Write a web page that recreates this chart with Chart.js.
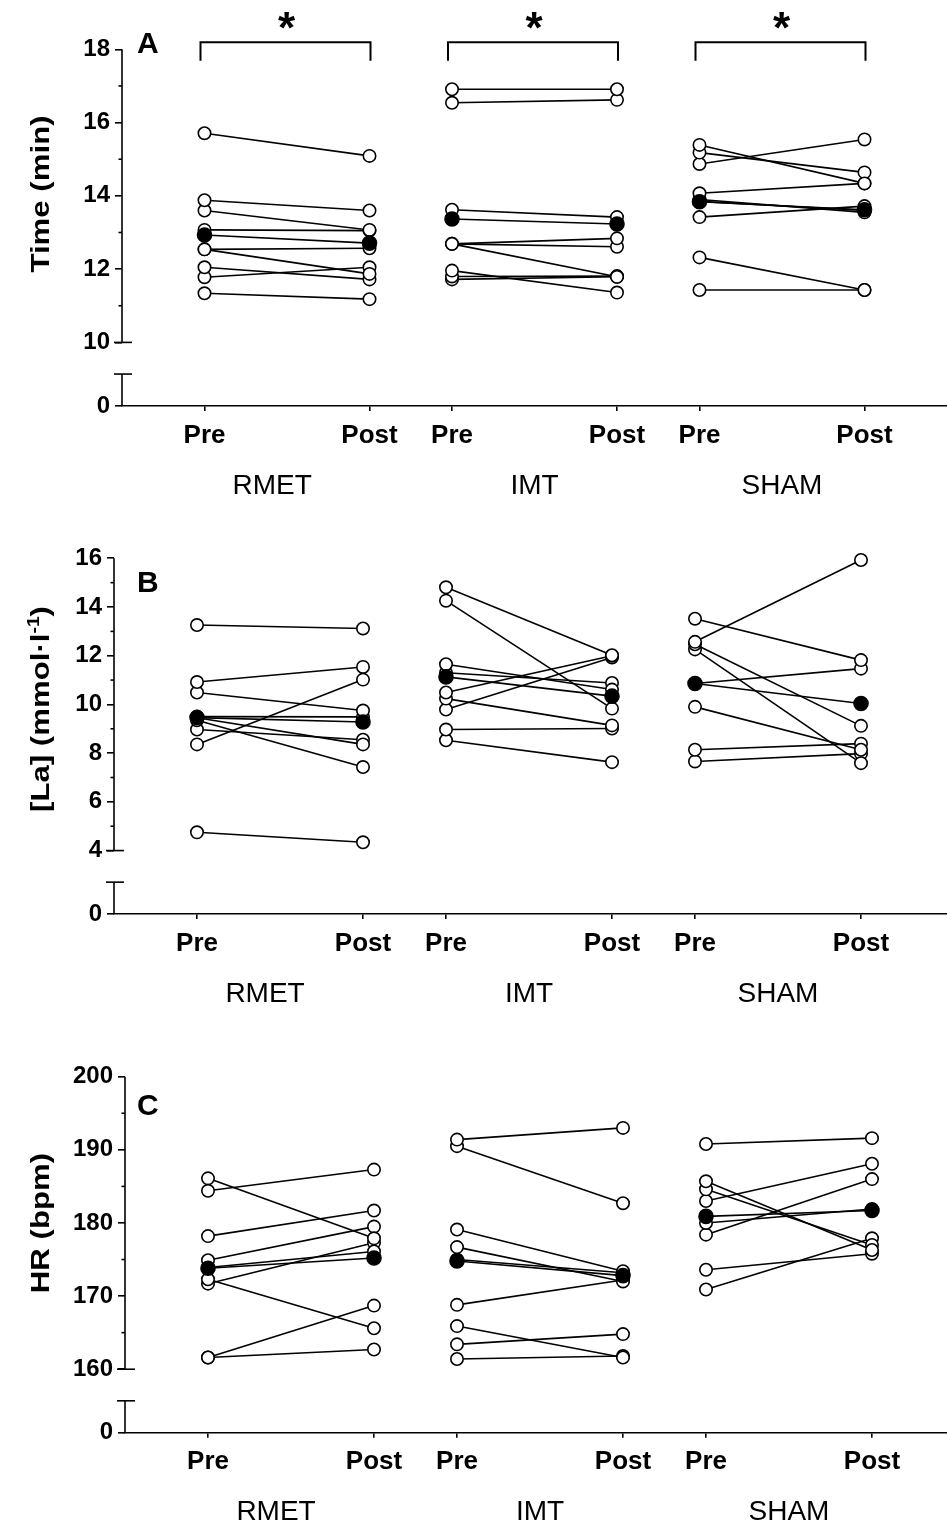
<!DOCTYPE html>
<html>
<head>
<meta charset="utf-8">
<script src="https://cdn.jsdelivr.net/npm/chart.js@4.4.1/dist/chart.umd.min.js"></script>
<style>
  html, body { margin: 0; padding: 0; background: #fff; }
  body { width: 947px; height: 1526px; position: relative; overflow: hidden; }
  canvas { position: absolute; left: 0; }
</style>
</head>
<body>
<canvas id="chartA" width="947" height="510" style="top:0px"></canvas>
<canvas id="chartB" width="947" height="520" style="top:510px"></canvas>
<canvas id="chartC" width="947" height="496" style="top:1030px"></canvas>
<script>
// x categories (Pre/Post per group) and group names
const xTickPos = [0, 2, 3, 5, 6, 8];
const xTickLabels = ['Pre', 'Post', 'Pre', 'Post', 'Pre', 'Post'];
const groupNames = ['RMET', 'IMT', 'SHAM'];
const groupLabelPos = [0.82, 4, 7];

// A - time (min)
const timeRmetPre  = [15.71, 13.88, 13.60, 13.07, 12.54, 12.54, 12.05, 11.78, 11.34];
const timeRmetPost = [15.09, 13.60, 13.07, 13.05, 12.57, 11.87, 11.72, 12.05, 11.18];
const timeImtPre   = [16.91, 16.54, 13.62, 12.69, 12.69, 12.69, 11.96, 11.80, 11.72];
const timeImtPost  = [16.91, 16.62, 13.42, 12.84, 12.61, 11.79, 11.36, 11.81, 11.79];
const timeShamPre  = [15.39, 15.18, 14.87, 14.07, 13.90, 13.85, 13.42, 12.32, 11.43];
const timeShamPost = [14.34, 14.64, 15.54, 14.34, 13.55, 13.60, 13.72, 11.43, 11.43];
const timeMeanPre  = [12.93, 13.37, 13.84];
const timeMeanPost = [12.71, 13.23, 13.62];
const timeTicks = [10, 12, 14, 16, 18];
const timeMinor = [11, 13, 15, 17];

// B - lactate
const laRmetPre  = [13.26, 10.92, 10.49, 9.50, 9.45, 9.35, 8.97, 8.36, 4.75];
const laRmetPost = [13.12, 11.54, 9.75, 9.49, 8.36, 7.43, 8.55, 11.02, 4.34];
const laImtPre   = [14.81, 14.26, 11.65, 11.30, 10.49, 10.24, 9.79, 8.97, 8.53];
const laImtPost  = [12.02, 9.83, 10.61, 10.88, 12.00, 9.14, 11.93, 9.01, 7.63];
const laShamPre  = [13.52, 12.57, 12.47, 12.26, 10.86, 9.90, 8.14, 7.66];
const laShamPost = [11.82, 15.93, 9.12, 7.59, 11.47, 8.14, 8.39, 7.98];
const laMeanPre  = [9.46, 11.13, 10.86];
const laMeanPost = [9.28, 10.34, 10.04];
const laTicks = [4, 6, 8, 10, 12, 14, 16];
const laMinor = [5, 7, 9, 11, 13, 15];

// C - heart rate
const hrRmetPre  = [184.4, 186.1, 178.2, 174.9, 173.9, 172.3, 171.7, 161.6, 161.6];
const hrRmetPost = [187.3, 177.9, 181.7, 179.5, 176.1, 165.6, 177.3, 168.7, 162.7];
const hrImtPre   = [191.4, 190.5, 179.1, 176.7, 175.0, 168.8, 165.9, 163.4, 161.4];
const hrImtPost  = [193.0, 182.7, 173.4, 172.0, 173.2, 172.2, 161.6, 164.8, 161.8];
const hrShamPre  = [190.8, 185.7, 184.6, 183.0, 180.0, 178.4, 173.6, 170.9];
const hrShamPost = [191.6, 176.3, 177.0, 188.1, 181.9, 186.0, 175.8, 177.9];
const hrMeanPre  = [173.8, 174.8, 180.9];
const hrMeanPost = [175.2, 172.8, 181.7];
const hrTicks = [160, 170, 180, 190, 200];
const hrMinor = [165, 175, 185, 195];

const FONT = '"Liberation Sans", Arial, Helvetica, sans-serif';

const panels = [
  {
    id: 'chartA', top: 0, height: 510, axisX: 122, topPx: 49.3, zeroPx: 406, unit: 82.5,
    letter: 'A', letterY: 45, title: [['Time (min)', 0]], titleY: 194,
    pre: [timeRmetPre, timeImtPre, timeShamPre], post: [timeRmetPost, timeImtPost, timeShamPost],
    meanPre: timeMeanPre, meanPost: timeMeanPost, ticks: timeTicks, minor: timeMinor, stars: true
  },
  {
    id: 'chartB', top: 510, height: 520, axisX: 114, topPx: 558.3, zeroPx: 914, unit: 83,
    letter: 'B', letterY: 584, title: [['[La] (mmol\u00b7l', 0], ['-1', 1], [')', 0]], titleY: 709,
    pre: [laRmetPre, laImtPre, laShamPre], post: [laRmetPost, laImtPost, laShamPost],
    meanPre: laMeanPre, meanPost: laMeanPost, ticks: laTicks, minor: laMinor, stars: false
  },
  {
    id: 'chartC', top: 1030, height: 496, axisX: 125, topPx: 1076.7, zeroPx: 1432.7, unit: 83,
    letter: 'C', letterY: 1107, title: [['HR (bpm)', 0]], titleY: 1223,
    pre: [hrRmetPre, hrImtPre, hrShamPre], post: [hrRmetPost, hrImtPost, hrShamPost],
    meanPre: hrMeanPre, meanPost: hrMeanPost, ticks: hrTicks, minor: hrMinor, stars: false
  }
];

function makeDatasets(p) {
  let ds = [];
  for (let g = 0; g < 3; g++) {
    let pre = p.pre[g];
    let post = p.post[g];
    for (let i = 0; i < pre.length; i++) {
      ds.push({
        data: [{ x: xTickPos[g * 2], y: pre[i] }, { x: xTickPos[g * 2 + 1], y: post[i] }],
        borderColor: '#000', borderWidth: 1.6,
        pointRadius: 6.2, pointBorderWidth: 1.6,
        pointBackgroundColor: '#fff', pointBorderColor: '#000',
        clip: false, order: 2
      });
    }
    ds.push({
      data: [{ x: xTickPos[g * 2], y: p.meanPre[g] }, { x: xTickPos[g * 2 + 1], y: p.meanPost[g] }],
      borderColor: '#000', borderWidth: 1.6,
      pointRadius: 7, pointBorderWidth: 1.6,
      pointBackgroundColor: '#000', pointBorderColor: '#000',
      clip: false, order: 1
    });
  }
  return ds;
}

function line(ctx, x1, y1, x2, y2) {
  ctx.beginPath();
  ctx.moveTo(x1, y1);
  ctx.lineTo(x2, y2);
  ctx.stroke();
}

function extrasPlugin(p) {
  return {
    id: 'extras' + p.letter,
    afterDraw(chart) {
      const ctx = chart.ctx;
      const y = chart.scales.y;
      const x = chart.scales.x;
      const ax = chart.chartArea.left;
      ctx.save();
      ctx.strokeStyle = '#000';
      ctx.lineWidth = 1.6;
      // broken y axis
      line(ctx, ax, y.getPixelForValue(p.high), ax, y.getPixelForValue(p.low));
      line(ctx, ax, y.getPixelForValue(p.capVal), ax, y.getPixelForValue(p.yMin));
      line(ctx, ax - 8, y.getPixelForValue(p.low), ax + 10, y.getPixelForValue(p.low));
      line(ctx, ax - 8, y.getPixelForValue(p.capVal), ax + 10, y.getPixelForValue(p.capVal));
      p.minor.forEach(v => line(ctx, ax - 3.5, y.getPixelForValue(v), ax, y.getPixelForValue(v)));

      // panel letter
      ctx.fillStyle = '#000';
      ctx.font = 'bold 30px ' + FONT;
      ctx.textAlign = 'left';
      ctx.textBaseline = 'middle';
      ctx.fillText(p.letter, 137, p.letterY - p.top);

      // y title (rotated)
      ctx.save();
      ctx.translate(40, p.titleY - p.top);
      ctx.rotate(-Math.PI / 2);
      ctx.scale(1.2, 1);
      let total = 0;
      p.title.forEach(part => {
        ctx.font = 'bold ' + (part[1] ? 16 : 26) + 'px ' + FONT;
        total += ctx.measureText(part[0]).width;
      });
      let cx = -total / 2;
      ctx.textAlign = 'left';
      ctx.textBaseline = 'alphabetic';
      p.title.forEach(part => {
        ctx.font = 'bold ' + (part[1] ? 16 : 26) + 'px ' + FONT;
        ctx.fillText(part[0], cx, part[1] ? -1 : 9);
        cx += ctx.measureText(part[0]).width;
      });
      ctx.restore();

      // significance brackets
      if (p.stars) {
        const span = p.high - p.low;
        const yTop = y.getPixelForValue(p.high + span * 0.024);
        const yBot = y.getPixelForValue(p.high - span * 0.039);
        ctx.lineWidth = 2;
        ctx.font = 'bold 44px ' + FONT;
        ctx.textAlign = 'center';
        ctx.textBaseline = 'alphabetic';
        for (let g = 0; g < 3; g++) {
          const xl = x.getPixelForValue(xTickPos[g * 2]) - 4;
          const xr = x.getPixelForValue(xTickPos[g * 2 + 1]) + 1;
          ctx.beginPath();
          ctx.moveTo(xl, yBot);
          ctx.lineTo(xl, yTop);
          ctx.lineTo(xr, yTop);
          ctx.lineTo(xr, yBot);
          ctx.stroke();
          ctx.fillText('*', (xl + xr) / 2 + 1, yTop + 1);
        }
      }
      ctx.restore();
    }
  };
}

panels.forEach(p => {
  const span = p.ticks[p.ticks.length - 1] - p.ticks[0];
  p.low = p.ticks[0];
  p.high = p.ticks[p.ticks.length - 1];
  p.yMin = p.low - span * 0.217;
  p.capVal = p.low - span * 0.108;
  const xMin = -1;
  const xMax = xMin + (947 - p.axisX) / p.unit;
  const yTickVals = [p.yMin].concat(p.ticks);
  const axisH1 = 50;
  const axisH2 = p.height - (p.zeroPx - p.top) - axisH1;

  new Chart(document.getElementById(p.id).getContext('2d'), {
    type: 'line',
    data: { datasets: makeDatasets(p) },
    plugins: [extrasPlugin(p)],
    options: {
      responsive: false,
      animation: false,
      devicePixelRatio: 1,
      events: [],
      layout: { autoPadding: false, padding: { top: p.topPx - p.top, left: 0, right: 0, bottom: 0 } },
      elements: { line: { tension: 0 } },
      plugins: { legend: { display: false }, tooltip: { enabled: false } },
      scales: {
        x: {
          type: 'linear', position: 'bottom', weight: 0,
          min: xMin, max: xMax,
          afterBuildTicks: s => { s.ticks = xTickPos.map(v => ({ value: v })); },
          afterFit: s => { s.height = axisH1; },
          grid: { display: true, drawOnChartArea: false, drawTicks: true, tickLength: 5, color: '#000', lineWidth: 1.6 },
          border: { display: true, color: '#000', width: 1.6 },
          ticks: {
            autoSkip: false, maxRotation: 0, minRotation: 0, padding: 9,
            color: '#000', font: { family: FONT, size: 26, weight: 'bold' },
            callback: (v, i) => xTickLabels[i]
          }
        },
        g: {
          type: 'linear', position: 'bottom', weight: 1,
          min: xMin, max: xMax,
          afterBuildTicks: s => { s.ticks = groupLabelPos.map(v => ({ value: v })); },
          afterFit: s => { s.height = axisH2; },
          grid: { display: false, drawTicks: false },
          border: { display: false },
          ticks: {
            autoSkip: false, maxRotation: 0, minRotation: 0, padding: 13,
            color: '#000', font: { family: FONT, size: 28, weight: 'normal' },
            callback: (v, i) => groupNames[i]
          }
        },
        y: {
          type: 'linear', position: 'left',
          min: p.yMin, max: p.high,
          afterBuildTicks: s => { s.ticks = yTickVals.map(v => ({ value: v })); },
          afterFit: s => { s.width = p.axisX; },
          grid: { display: true, drawOnChartArea: false, drawTicks: true, tickLength: 7, color: '#000', lineWidth: 1.6 },
          border: { display: false },
          ticks: {
            autoSkip: false, padding: 5,
            color: '#000', font: { family: FONT, size: 24, weight: 'bold' },
            callback: (v, i) => i === 0 ? '0' : String(v)
          }
        }
      }
    }
  });
});
</script>
</body>
</html>
